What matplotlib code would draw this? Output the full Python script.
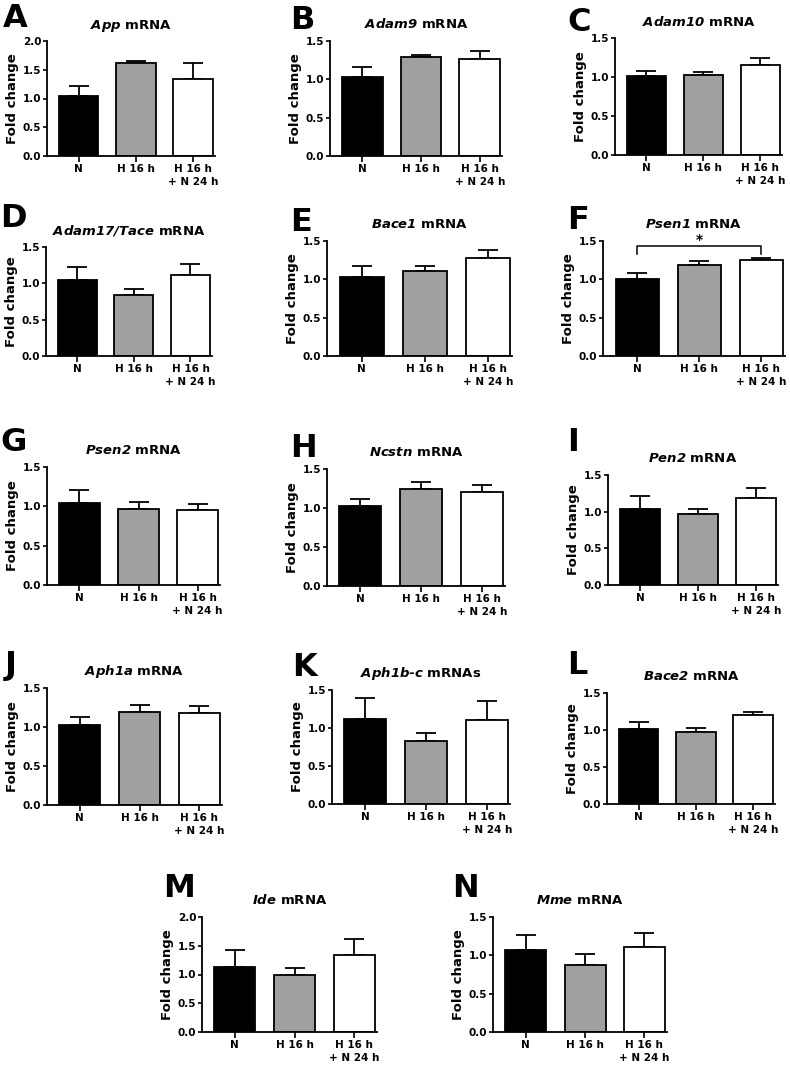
import matplotlib.pyplot as plt
import numpy as np

plt.rcParams['font.family'] = 'DejaVu Sans'
plt.rcParams['font.weight'] = 'bold'
plt.rcParams['mathtext.fontset'] = 'custom'
# digits and signs inside \mathit come from the rm font, so make it italic too
plt.rcParams['mathtext.it'] = 'DejaVu Sans:italic:bold'
plt.rcParams['mathtext.rm'] = 'DejaVu Sans:italic:bold'
plt.rcParams['mathtext.bf'] = 'DejaVu Sans:bold'

groups = ['N', 'H 16 h', 'H 16 h\n+ N 24 h']
letters = ['A', 'B', 'C', 'D', 'E', 'F', 'G', 'H', 'I', 'J', 'K', 'L', 'M', 'N']
titles = [r'$\mathit{App}$ mRNA', r'$\mathit{Adam9}$ mRNA', r'$\mathit{Adam10}$ mRNA',
          r'$\mathit{Adam17/Tace}$ mRNA', r'$\mathit{Bace1}$ mRNA', r'$\mathit{Psen1}$ mRNA',
          r'$\mathit{Psen2}$ mRNA', r'$\mathit{Ncstn}$ mRNA', r'$\mathit{Pen2}$ mRNA',
          r'$\mathit{Aph1a}$ mRNA', r'$\mathit{Aph1b}$-$\mathit{c}$ mRNAs', r'$\mathit{Bace2}$ mRNA',
          r'$\mathit{Ide}$ mRNA', r'$\mathit{Mme}$ mRNA']
means = [[1.04, 1.61, 1.34], [1.03, 1.29, 1.27], [1.01, 1.02, 1.16],
         [1.05, 0.84, 1.11], [1.03, 1.11, 1.28], [1.01, 1.19, 1.25],
         [1.04, 0.97, 0.95], [1.02, 1.25, 1.20], [1.04, 0.97, 1.19],
         [1.02, 1.19, 1.18], [1.12, 0.83, 1.10], [1.01, 0.97, 1.20],
         [1.13, 0.99, 1.34], [1.07, 0.88, 1.11]]
sems = [[0.17, 0.04, 0.28], [0.13, 0.03, 0.10], [0.07, 0.04, 0.08],
        [0.17, 0.08, 0.15], [0.14, 0.06, 0.10], [0.07, 0.05, 0.025],
        [0.17, 0.08, 0.08], [0.09, 0.08, 0.09], [0.17, 0.07, 0.13],
        [0.11, 0.09, 0.09], [0.28, 0.11, 0.25], [0.10, 0.06, 0.045],
        [0.29, 0.12, 0.28], [0.19, 0.14, 0.18]]
ymax = [2.0, 1.5, 1.5, 1.5, 1.5, 1.5, 1.5, 1.5, 1.5, 1.5, 1.5, 1.5, 2.0, 1.5]

# axes boxes in pixels: left, right, top, bottom
boxes = [(47, 215, 41, 156), (330, 502, 41, 156), (615, 782, 38, 155),
         (46, 212, 247, 356), (327, 512, 241, 356), (603, 785, 241, 356),
         (47, 220, 467, 585), (327, 505, 469, 586), (608, 778, 475, 585),
         (47, 222, 688, 805), (332, 510, 690, 804), (607, 775, 693, 804),
         (202, 377, 917, 1032), (493, 667, 917, 1032)]
letter_pos = [(3, 3), (290, 5), (567, 7), (0, 203), (290, 207), (567, 205),
              (0, 427), (290, 433), (567, 427), (5, 650), (292, 652), (567, 650),
              (163, 873), (452, 873)]

W, H = 790, 1066
colors = ['black', '#a0a0a0', 'white']
fig = plt.figure(figsize=(W / 100, H / 100), dpi=100)
x = np.arange(3)

for i in range(14):
    l, r, t, b = boxes[i]
    ax = fig.add_axes([l / W, 1 - b / H, (r - l) / W, (b - t) / H])
    ax.bar(x, means[i], width=0.69, color=colors, edgecolor='black', linewidth=1.3, zorder=2)
    ax.errorbar(x, means[i], yerr=[np.zeros(3), sems[i]], fmt='none', ecolor='black',
                elinewidth=1.3, capsize=7, capthick=1.3, zorder=1)
    ax.set_xlim(-0.55, 2.38)
    ax.set_ylim(0, ymax[i])
    yt = np.arange(0, ymax[i] + 0.01, 0.5)
    ax.set_yticks(yt)
    ax.set_yticklabels(['%.1f' % v for v in yt], fontweight='bold')
    ax.set_xticks(x)
    ax.set_xticklabels(groups, fontsize=7.5, linespacing=1.35, fontweight='bold')
    ax.tick_params(axis='y', labelsize=7.5, length=3, width=1.2, pad=1)
    ax.tick_params(axis='x', length=4, width=1.2, pad=2)
    for s in ['top', 'right']:
        ax.spines[s].set_visible(False)
    for s in ['left', 'bottom']:
        ax.spines[s].set_linewidth(1.3)
    ax.set_ylabel('Fold change', fontsize=9.5, fontweight='bold', labelpad=3)
    ax.set_title(titles[i], fontsize=9.5, fontweight='bold', pad=9)
    lx, ly = letter_pos[i]
    fig.text(lx / W, 1 - ly / H, letters[i], fontsize=23, fontweight='bold', va='top', ha='left')

    if letters[i] == 'F':
        ax.plot([0, 0, 2, 2], [1.335, 1.43, 1.43, 1.33], color='black', lw=1.1, clip_on=False)
        ax.text(1, 1.42, '*', ha='center', va='bottom', fontsize=10, fontweight='bold')

plt.savefig('out.png', dpi=100)
